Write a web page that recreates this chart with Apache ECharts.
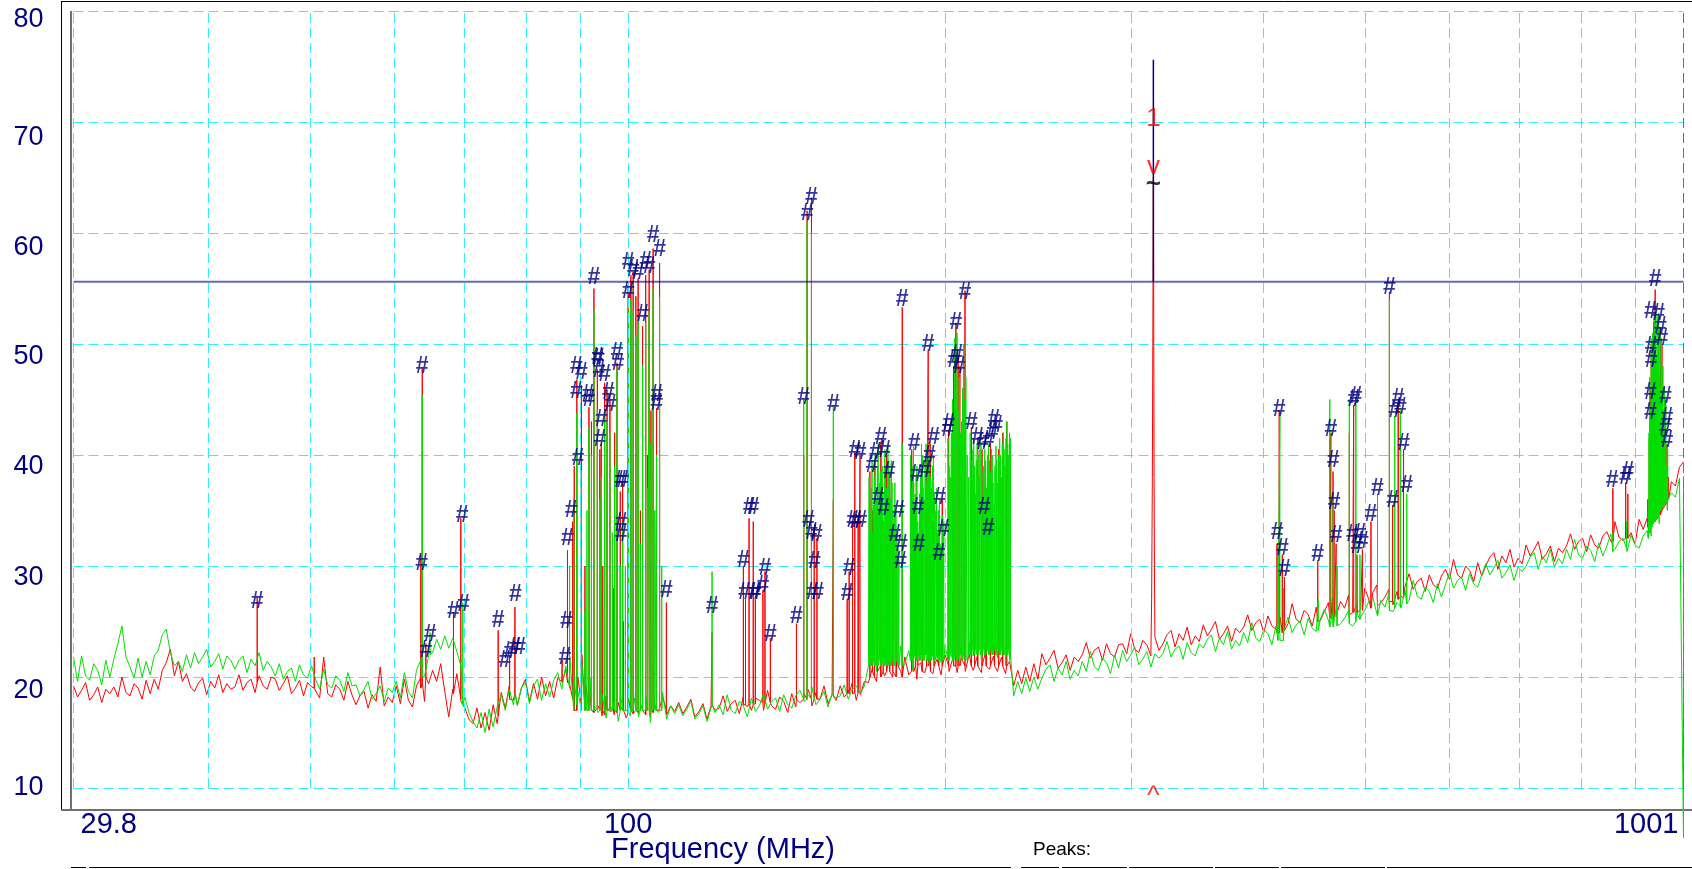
<!DOCTYPE html>
<html>
<head>
<meta charset="utf-8">
<title>Spectrum scan</title>
<style>
  * { margin: 0; padding: 0; }
  html, body { background: #fff; }
</style>
</head>
<body>
<div id="chart" style="width: 1692px; height: 869px;"></div>
<script src="https://cdn.jsdelivr.net/npm/echarts@6/dist/echarts.min.js"></script>
<script>
// sweep range (MHz) and tick labels
var fMin = 29.8, fMax = 1001;
var xTickLabels = [29.8, 100, 1001];
var yTicks = [10, 20, 30, 40, 50, 60, 70, 80];
var gridFreqs = [29.8, 40, 50, 60, 70, 80, 90, 100, 200, 300, 400, 500, 600, 700, 800, 900, 1000];

var limitLevel = 55.6;
var markerFreq = 314.7;
var markerTop = 75.6;
var markerTags = [['1', 70.3], ['v', 66.0], ['~', 64.3], ['^', 9.2]];

// noise floor, one value per sweep point (400 points, log spaced)
var redFloor = [
  19.2, 18.2, 18.8, 19.5, 17.9, 18.4, 19.1, 17.7, 18.9, 18.5,
  19.1, 18.2, 20.0, 18.6, 18.3, 19.4, 19.0, 18.0, 19.7, 18.5,
  19.8, 18.9, 20.6, 21.3, 22.5, 20.1, 21.4, 19.6, 20.3, 19.1,
  18.7, 19.5, 19.9, 18.4, 19.6, 19.0, 20.2, 18.6, 19.4, 18.9,
  19.1, 20.2, 18.8, 19.5, 19.8, 18.6, 20.1, 19.2, 18.9, 20.0,
  19.8, 18.8, 19.4, 20.1, 18.5, 19.0, 19.7, 18.3, 19.5, 19.1,
  19.0, 18.1, 21.8, 18.5, 18.2, 19.3, 18.9, 17.9, 19.6, 18.4,
  17.5, 18.3, 18.7, 17.2, 18.4, 17.8, 20.9, 17.4, 18.2, 17.7,
  19.2, 17.6, 19.8, 17.9, 17.3, 19.2, 19.9, 17.8, 19.4, 20.6,
  19.6, 21.2, 18.7, 16.4, 18.9, 20.3, 17.8, 17.2, 16.2, 15.8,
  17.2, 15.4, 16.8, 15.2, 17.5, 15.8, 18.6, 17.2, 19.2, 17.9,
  17.5, 19.0, 19.8, 17.8, 19.4, 18.0, 20.0, 18.3, 19.6, 18.1,
  19.9, 19.6, 20.7, 19.3, 21.5, 20.0, 22.0, 19.2, 18.6, 16.8,
  17.4, 16.5, 18.3, 16.9, 16.6, 17.7, 17.3, 16.3, 18.0, 16.8,
  16.7, 17.5, 17.9, 16.4, 17.6, 17.0, 18.2, 16.6, 17.4, 16.9,
  17.7, 16.7, 17.3, 18.0, 16.4, 16.9, 17.6, 16.2, 17.4, 17.0,
  17.2, 18.3, 16.9, 17.6, 17.9, 16.7, 18.2, 17.3, 17.0, 18.1,
  17.9, 17.0, 18.8, 17.4, 17.1, 18.2, 17.8, 16.8, 18.5, 17.3,
  17.7, 18.5, 18.9, 17.4, 18.6, 18.0, 19.2, 17.6, 18.4, 17.9,
  19.2, 18.2, 18.8, 19.5, 17.9, 18.4, 19.6, 19.5, 20.8, 19.6,
  21.0, 20.1, 21.6, 20.0, 21.3, 20.5, 21.8, 20.2, 20.6, 19.8,
  21.3, 20.4, 21.9, 20.3, 21.6, 20.2, 22.0, 20.5, 21.8, 20.4,
  21.7, 20.5, 22.1, 20.6, 21.9, 20.4, 22.2, 20.7, 21.9, 20.5,
  21.8, 20.3, 21.4, 19.2, 20.6, 19.4, 20.9, 19.6, 21.2, 19.8,
  22.1, 21.1, 21.7, 22.4, 20.8, 21.3, 22.0, 20.6, 21.8, 21.4,
  22.0, 23.1, 21.7, 22.4, 22.7, 21.5, 23.0, 22.1, 21.8, 22.9,
  23.0, 22.1, 23.9, 22.5, 22.2, 23.3, 22.9, 21.9, 23.6, 22.4,
  23.0, 23.8, 24.2, 22.7, 23.9, 23.3, 24.5, 22.9, 23.7, 23.2,
  24.7, 23.7, 24.3, 25.0, 23.4, 23.9, 24.6, 23.2, 24.4, 24.0,
  24.5, 25.6, 24.2, 24.9, 25.2, 24.0, 25.5, 24.6, 24.3, 25.4,
  25.7, 24.8, 26.6, 25.2, 24.9, 26.0, 25.6, 24.6, 26.3, 25.1,
  25.9, 26.7, 27.1, 25.6, 26.8, 26.2, 27.4, 25.8, 26.6, 26.1,
  28.0, 27.0, 27.6, 28.3, 26.7, 27.2, 27.9, 26.5, 27.7, 27.3,
  28.2, 29.3, 27.9, 28.6, 28.9, 27.7, 29.2, 28.3, 28.0, 29.1,
  29.7, 28.8, 30.6, 29.2, 28.9, 30.0, 29.6, 28.6, 30.3, 29.1,
  30.0, 30.8, 31.2, 29.7, 30.9, 30.3, 31.5, 29.9, 30.7, 30.2,
  31.9, 30.9, 31.5, 32.2, 30.6, 31.1, 31.8, 30.4, 31.6, 31.2,
  31.8, 32.9, 31.5, 32.2, 32.5, 31.3, 32.8, 31.9, 31.6, 32.7,
  33.1, 32.2, 34.0, 32.6, 32.3, 33.4, 33.0, 32.0, 34.2, 33.3,
  34.3, 33.6, 35.0, 34.8, 36.2, 36.0, 37.6, 37.2, 38.9, 39.4
];

var greenFloor = [
  21.8, 19.6, 21.9, 20.1, 19.7, 21.2, 20.6, 19.3, 21.5, 20.0,
  21.6, 23.0, 24.6, 21.8, 20.9, 19.9, 21.7, 20.0, 21.4, 20.2,
  21.9, 22.4, 23.8, 24.3, 22.2, 21.0, 21.4, 20.5, 22.0, 20.8,
  22.2, 21.2, 21.8, 22.5, 20.9, 21.4, 22.1, 20.7, 21.9, 21.5,
  20.7, 21.5, 21.9, 20.4, 21.6, 21.0, 22.2, 20.6, 21.4, 20.9,
  20.1, 21.2, 19.8, 20.5, 20.8, 19.6, 21.1, 20.2, 19.9, 21.0,
  19.8, 18.9, 20.7, 19.3, 19.0, 20.1, 19.7, 18.7, 20.4, 19.2,
  19.3, 18.3, 18.9, 19.6, 18.0, 18.5, 19.2, 17.8, 19.0, 18.6,
  19.6, 18.1, 20.4, 18.7, 18.1, 20.6, 21.5, 20.1, 21.9, 22.2,
  23.4, 22.5, 23.7, 22.6, 23.5, 22.3, 21.0, 18.2, 16.8, 16.0,
  15.4, 16.8, 15.0, 17.1, 15.5, 17.3, 18.4, 17.0, 18.9, 17.5,
  17.4, 19.0, 19.5, 17.6, 19.2, 19.8, 17.9, 19.4, 18.2, 19.7,
  20.4, 18.9, 21.0, 21.8, 20.1, 18.7, 21.1, 18.3, 19.9, 17.4,
  16.8, 18.4, 16.3, 17.4, 17.8, 16.0, 18.3, 16.9, 16.5, 18.1,
  16.4, 17.6, 18.2, 15.9, 17.7, 16.8, 18.6, 16.2, 17.4, 16.7,
  17.5, 16.5, 17.1, 17.8, 16.2, 16.7, 17.4, 16.0, 17.2, 16.8,
  17.5, 16.6, 18.4, 17.0, 16.7, 17.8, 17.4, 16.4, 18.1, 16.9,
  17.4, 18.5, 17.1, 17.8, 18.1, 16.9, 18.4, 17.5, 17.2, 18.3,
  18.8, 17.8, 18.4, 19.1, 17.5, 18.0, 18.7, 17.3, 18.5, 18.1,
  18.3, 19.3, 18.0, 18.9, 19.2, 18.5, 19.2, 21.0, 21.7, 20.5,
  21.9, 22.6, 20.9, 23.1, 21.4, 22.8, 21.1, 22.4, 20.6, 21.9,
  22.1, 22.7, 21.2, 23.2, 21.7, 21.3, 22.9, 21.6, 23.0, 21.8,
  22.8, 21.6, 23.1, 21.9, 22.9, 21.5, 23.2, 22.0, 23.0, 21.7,
  22.7, 21.0, 21.5, 18.3, 19.6, 18.5, 19.9, 18.7, 20.0, 18.9,
  19.9, 20.7, 21.1, 19.6, 20.8, 20.2, 21.4, 19.8, 20.6, 20.1,
  21.4, 20.5, 22.3, 20.9, 20.6, 21.7, 21.3, 20.3, 22.0, 20.8,
  22.4, 21.4, 22.0, 22.7, 21.1, 21.6, 22.3, 20.9, 22.1, 21.7,
  22.1, 23.2, 21.8, 22.5, 22.8, 21.6, 23.1, 22.2, 21.9, 23.0,
  22.6, 23.4, 23.8, 22.3, 23.5, 22.9, 24.1, 22.5, 23.3, 22.8,
  24.0, 23.1, 24.9, 23.5, 23.2, 24.3, 23.9, 22.9, 24.6, 23.4,
  24.3, 25.4, 24.0, 24.7, 25.0, 23.8, 25.3, 24.4, 24.1, 25.2,
  26.1, 25.1, 25.7, 26.4, 24.8, 25.3, 26.0, 24.6, 25.8, 25.4,
  26.0, 26.8, 27.2, 25.7, 26.9, 26.3, 27.5, 25.9, 26.7, 26.2,
  27.8, 26.9, 28.7, 27.3, 27.0, 28.1, 27.7, 26.7, 28.4, 27.2,
  28.3, 29.4, 28.0, 28.7, 29.0, 27.8, 29.3, 28.4, 28.1, 29.2,
  30.2, 29.2, 29.8, 30.5, 28.9, 29.4, 30.1, 28.7, 29.9, 29.5,
  30.0, 30.8, 31.2, 29.7, 30.9, 30.3, 31.5, 29.9, 30.7, 30.2,
  31.5, 30.6, 32.4, 31.0, 30.7, 31.8, 31.4, 30.4, 32.1, 30.9,
  31.8, 32.9, 31.5, 32.2, 32.5, 31.3, 32.8, 31.9, 31.6, 32.7,
  33.2, 32.7, 34.0, 33.8, 35.2, 35.0, 36.6, 36.2, 37.9, 38.1
];

// spikes: [MHz, peak dB, base dB]  or  [MHz, dB] for a single point
var redSpikes = [
  [44.5, 27.2, 19.5], [50.4, 21.8, 19.0], [63.6, 31.0, 19.0], [63.8, 47.8, 19.5], [64.3, 23.0, 20.0],
  [68.3, 25.8, 18.5], [69.4, 34.3, 18.0], [75.3, 24.2, 16.5], [77.2, 22.0, 18.0], [78.1, 26.3, 18.5],
  [86.6, 21.5, 19.5], [87.6, 31.4, 19.5], [88.6, 34.0, 18.0], [88.9, 39.0, 17.0],
  [89.4, 46.8, 17.0], [90.3, 46.3, 17.5], [91.0, 30.0, 17.0], [91.8, 44.3, 17.0], [92.3, 43.0, 17.0],
  [92.8, 55.0, 16.8], [93.5, 47.7, 17.2], [94.0, 40.5, 17.0], [94.3, 41.0, 17.0], [94.6, 30.0, 17.0],
  [95.0, 46.5, 16.6], [95.5, 45.9, 17.0], [96.1, 45.0, 17.2], [96.8, 28.0, 17.0], [97.1, 42.0, 17.0],
  [97.6, 48.3, 16.8], [98.3, 36.7, 17.0], [98.8, 37.5, 17.0], [99.0, 25.0, 17.0],
  [100.0, 55.3, 16.8], [100.6, 56.2, 17.0], [101.1, 56.5, 16.7], [101.7, 54.3, 17.0], [102.2, 55.9, 16.8],
  [102.7, 35.0, 17.0], [103.2, 51.6, 17.0], [103.9, 56.2, 16.6], [104.3, 40.0, 17.0], [104.7, 56.7, 17.0],
  [105.1, 44.0, 17.0], [105.6, 58.6, 16.8], [106.4, 44.2, 17.0], [107.1, 57.3, 17.2], [108.7, 26.7, 17.0],
  [120.1, 24.0, 17.5], [128.6, 30.0, 17.5], [129.2, 27.0, 17.5], [130.2, 34.3, 17.6], [131.4, 34.0, 17.5],
  [132.0, 27.0, 17.6], [134.2, 27.8, 17.7], [134.8, 29.5, 17.6], [136.4, 23.5, 17.7], [144.4, 24.8, 18.0],
  [146.7, 40.0, 18.0], [147.8, 62.0, 18.0], [149.2, 63.2, 18.0], [150.1, 33.5, 18.0], [151.0, 32.5, 18.0],
  [156.5, 36.0, 18.3], [161.3, 27.0, 18.5], [162.0, 29.5, 18.5], [163.2, 34.0, 18.5], [164.0, 40.2, 18.6],
  [165.2, 34.0, 18.6], [165.9, 40.0, 18.6],
  [169.5, 38.5, 20.0], [170.5, 35.0, 20.5], [171.2, 39.5, 20.0], [172.3, 36.0, 20.5], [173.6, 41.2, 20.0],
  [174.5, 34.0, 20.5], [175.8, 40.0, 20.5], [177.0, 37.8, 20.5], [178.2, 33.0, 20.5], [179.5, 31.0, 20.0],
  [181.9, 53.3, 20.0],
  [185.7, 40.5, 20.5], [186.5, 37.5, 20.5], [187.3, 35.0, 21.0], [188.2, 30.0, 21.0], [190.0, 38.0, 20.5],
  [191.8, 39.5, 21.0], [192.5, 49.5, 21.0], [193.5, 41.0, 20.5], [195.0, 35.5, 21.0], [197.0, 30.5, 21.0],
  [198.5, 36.0, 21.0],
  [201.3, 42.3, 21.0], [203.5, 48.0, 21.0], [204.5, 51.9, 21.0], [205.5, 49.0, 21.0], [206.3, 48.0, 21.0],
  [208.6, 54.8, 21.0],
  [211.5, 42.5, 21.0], [213.0, 38.0, 21.0], [214.5, 41.5, 21.0], [216.5, 40.5, 21.0], [218.5, 35.0, 21.0],
  [220.5, 41.0, 21.0], [222.5, 33.0, 21.0], [224.5, 40.5, 21.0], [226.5, 42.0, 21.0], [228.5, 43.0, 21.0],
  [313.5, 27.0], [314.0, 38.0], [314.7, 65.0], [315.2, 38.0], [315.5, 28.0],
  [412.2, 32.0, 24.0], [414.2, 44.0, 24.0], [417.0, 31.0, 24.0], [419.0, 29.0, 24.2], [450.5, 30.5, 25.0],
  [462.5, 41.5, 25.3], [463.6, 42.0, 25.3], [465.8, 38.5, 25.3], [467.0, 35.0, 25.4], [469.0, 32.0, 25.4],
  [482.7, 42.0, 25.6], [487.3, 44.5, 25.8], [490.8, 31.0, 25.8], [496.7, 31.5, 26.0], [506.0, 34.0, 26.2],
  [513.3, 33.0, 26.4], [526.8, 54.7, 26.8], [530.5, 35.5, 26.8], [537.0, 44.5, 27.0], [543.3, 40.5, 27.1],
  [858.0, 37.0, 32.2], [882.3, 37.5, 32.5], [886.5, 36.5, 32.5],
  [926.0, 36.0, 33.5], [929.0, 41.5, 33.8], [931.0, 46.0, 33.8], [933.0, 50.0, 34.0], [935.0, 43.0, 34.0],
  [938.0, 52.0, 34.0], [941.0, 54.9, 34.0], [944.0, 49.0, 34.2], [948.0, 52.2, 34.5], [951.6, 51.0, 34.6],
  [955.0, 50.0, 35.0], [958.0, 44.0, 35.2], [962.0, 45.0, 35.5], [965.5, 41.0, 35.8], [969.0, 38.0, 36.0]
];

var greenSpikes = [
  [63.8, 45.4, 20.0], [64.9, 24.0, 22.0], [69.7, 26.7, 17.5], [78.2, 24.5, 18.5], [88.0, 30.0, 19.0],
  [88.8, 36.0, 17.0],
  [89.4, 43.8, 17.5], [90.3, 38.6, 17.0], [91.0, 26.0, 17.0], [91.4, 35.0, 17.0], [91.8, 42.5, 17.0],
  [92.3, 40.0, 17.0], [92.8, 53.1, 17.0], [93.5, 44.1, 17.0], [94.0, 36.0, 17.0], [94.3, 38.0, 17.0],
  [95.0, 44.0, 17.0], [95.5, 43.0, 17.0], [96.1, 42.0, 17.0], [96.6, 33.0, 17.0], [97.1, 39.0, 17.0],
  [97.6, 47.7, 17.0], [98.3, 30.0, 17.0], [98.8, 34.0, 17.0], [99.4, 30.0, 17.0], [100.0, 53.1, 17.0],
  [100.6, 54.0, 17.0], [101.1, 53.0, 17.0], [101.7, 50.7, 17.0], [102.2, 52.0, 17.0], [102.7, 32.0, 17.0],
  [103.2, 48.0, 17.0], [103.9, 51.9, 17.0], [104.3, 37.0, 17.0], [104.7, 53.0, 17.0], [105.1, 41.0, 17.0],
  [105.6, 54.9, 17.0], [106.0, 35.0, 17.0], [106.4, 40.0, 17.0], [107.1, 54.2, 17.0], [107.6, 30.0, 17.0],
  [120.1, 29.5, 17.5], [146.7, 45.0, 18.0], [147.8, 61.0, 18.0], [149.2, 60.0, 18.0], [156.5, 44.5, 18.3],
  [169.2, 38.0, 21.0], [169.5, 35.0, 21.5], [169.8, 33.0, 21.5], [170.0, 37.0, 21.0], [170.3, 39.5, 21.0],
  [170.6, 33.0, 21.5], [170.9, 35.5, 21.5], [171.2, 38.0, 21.0], [171.5, 40.2, 21.0], [171.8, 34.5, 21.5],
  [172.0, 36.0, 22.0], [172.3, 39.0, 21.0], [172.6, 41.0, 21.0], [172.9, 35.0, 21.5], [173.2, 37.5, 22.0],
  [173.5, 38.5, 21.0], [173.9, 41.5, 21.0], [174.1, 39.0, 21.5], [174.4, 36.5, 21.5], [174.7, 34.0, 21.0],
  [175.1, 40.5, 21.0], [175.4, 38.8, 21.5], [175.7, 37.0, 22.0], [176.0, 35.5, 21.0], [176.3, 40.8, 21.0],
  [176.6, 39.5, 21.5], [176.9, 38.5, 21.5], [177.2, 36.0, 21.0], [177.6, 39.5, 21.0], [177.9, 37.5, 21.5],
  [178.3, 35.0, 22.0], [178.6, 33.5, 21.0], [179.0, 37.5, 21.0], [179.4, 35.0, 21.5], [179.8, 33.0, 21.5],
  [180.2, 31.5, 21.0], [180.6, 30.5, 21.0], [181.9, 41.0, 21.0],
  [185.2, 40.0, 21.5], [185.5, 36.0, 21.5], [185.8, 37.0, 22.0], [186.1, 39.0, 21.5], [186.4, 40.8, 21.5],
  [186.8, 35.5, 22.0], [187.1, 36.5, 22.0], [187.5, 38.0, 21.5], [187.8, 39.0, 21.5], [188.2, 34.0, 22.0],
  [188.6, 33.0, 22.0], [188.9, 36.5, 21.5], [189.3, 38.0, 21.5], [189.7, 41.0, 22.0], [190.1, 40.0, 22.0],
  [190.4, 37.0, 21.5], [190.8, 36.0, 21.5], [191.2, 39.5, 22.0], [191.6, 41.0, 22.0], [191.9, 37.5, 21.5],
  [192.3, 38.5, 21.5], [192.7, 40.0, 22.0], [193.1, 41.2, 22.0], [193.5, 38.0, 21.5], [193.9, 37.0, 21.5],
  [194.3, 39.0, 22.0], [194.7, 40.0, 22.0], [195.1, 36.5, 21.5], [195.5, 35.0, 21.5], [196.0, 37.0, 22.0],
  [196.4, 33.0, 22.0], [196.8, 35.0, 21.5], [197.3, 36.0, 21.5], [197.7, 32.0, 22.0], [198.2, 31.0, 22.0],
  [198.7, 34.5, 21.5], [199.2, 34.0, 21.5],
  [201.0, 41.5, 21.5], [201.5, 39.0, 21.5], [202.0, 38.0, 22.0], [202.5, 42.0, 22.0], [203.0, 45.0, 21.5],
  [203.5, 43.0, 21.5], [204.0, 50.5, 22.0], [204.5, 46.0, 22.0], [205.0, 51.0, 21.5], [205.5, 44.0, 21.5],
  [206.0, 47.0, 22.0], [206.5, 42.0, 22.0], [207.0, 43.0, 21.5], [207.5, 46.0, 21.5], [208.0, 50.0, 22.0],
  [208.5, 45.0, 22.0], [209.0, 47.0, 21.5], [209.6, 40.0, 21.5], [210.3, 38.0, 22.0],
  [211.0, 42.0, 22.0], [211.4, 39.5, 22.0], [211.8, 38.0, 22.5], [212.2, 40.5, 22.5], [212.6, 41.5, 22.0],
  [213.0, 39.0, 22.0], [213.4, 36.5, 22.5], [213.8, 39.5, 22.5], [214.2, 41.0, 22.0], [214.6, 40.0, 22.0],
  [215.1, 38.0, 22.5], [215.5, 40.5, 22.5], [216.0, 41.2, 22.0], [216.4, 38.5, 22.0], [216.9, 36.0, 22.5],
  [217.3, 39.0, 22.5], [217.8, 40.5, 22.0], [218.2, 39.5, 22.0], [218.7, 37.0, 22.5], [219.1, 40.0, 22.5],
  [219.6, 41.0, 22.0], [220.0, 39.5, 22.0], [220.5, 38.5, 22.5], [221.0, 40.5, 22.5], [221.4, 40.0, 22.0],
  [221.8, 37.5, 22.0], [222.3, 35.5, 22.5], [222.7, 39.0, 22.5], [223.2, 40.8, 22.0], [223.6, 39.5, 22.0],
  [224.1, 37.5, 22.5], [224.5, 40.0, 22.5], [225.0, 41.5, 22.0], [225.4, 40.0, 22.0], [225.9, 38.0, 22.5],
  [226.3, 41.0, 22.5], [226.8, 42.0, 22.0], [227.2, 40.5, 22.0], [227.7, 39.0, 22.5], [228.1, 41.5, 22.5],
  [228.6, 43.0, 22.0], [229.0, 41.0, 22.0], [229.5, 40.0, 22.5], [229.9, 42.0, 22.5], [230.4, 41.5, 22.0],
  [413.0, 30.0, 23.3], [414.8, 43.5, 23.3], [418.0, 28.0, 23.3], [451.0, 27.0, 24.2], [462.5, 45.0, 24.5],
  [466.0, 36.0, 24.5], [470.0, 30.0, 24.6], [482.7, 45.0, 24.8], [489.6, 44.8, 25.0], [494.0, 31.0, 25.2],
  [513.3, 36.5, 25.5], [526.8, 54.0, 26.0], [533.0, 43.5, 26.2], [539.5, 44.0, 26.4], [547.1, 36.5, 26.6],
  [858.0, 33.0, 31.3], [884.0, 34.0, 31.6],
  [927.0, 35.0, 32.5], [928.5, 42.0, 33.0], [930.0, 47.0, 33.0], [931.5, 44.0, 33.2], [933.0, 50.5, 33.5],
  [934.5, 46.0, 33.5], [936.0, 51.0, 33.8], [937.5, 48.0, 33.8], [939.0, 52.5, 34.0], [940.5, 50.0, 34.0],
  [942.0, 53.2, 34.2], [943.5, 49.0, 34.2], [945.0, 52.5, 34.5], [946.5, 48.0, 34.5], [948.0, 52.8, 34.6],
  [949.5, 47.0, 34.8], [951.0, 51.5, 35.0], [952.5, 46.0, 35.0], [954.0, 50.5, 35.2], [955.5, 45.0, 35.2],
  [957.0, 48.0, 35.4], [958.5, 43.0, 35.4], [960.0, 46.0, 35.6], [961.5, 41.0, 35.6], [963.0, 44.5, 35.8],
  [965.0, 39.0, 36.0], [967.0, 40.5, 36.0],
  [1001, 5.5]
];

// peak flags ("#") [MHz, dB]
var peakMarks = [
  [44.5, 26.8], [63.8, 48.0], [63.7, 30.2], [64.3, 22.4], [64.9, 23.8], [68.3, 25.9], [69.6, 34.5], [69.8, 26.5],
  [75.3, 25.1], [76.4, 21.5], [77.2, 22.3], [78.1, 22.6], [78.9, 22.6], [78.2, 27.4], [87.1, 21.7], [87.4, 25.0],
  [87.6, 32.5], [88.3, 35.0], [89.3, 48.0], [90.3, 47.4], [89.3, 45.7], [89.6, 39.7], [91.6, 45.4], [93.7, 48.7],
  [94.3, 43.2], [94.0, 41.4], [97.6, 49.2], [97.8, 48.2], [98.8, 37.7], [98.5, 33.9], [98.5, 32.8], [92.8, 56.0],
  [93.5, 48.8], [93.8, 47.6], [91.8, 45.0], [95.0, 47.2], [95.8, 45.6], [96.2, 44.5], [100.0, 57.3], [100.0, 54.7],
  [101.1, 56.7], [102.2, 56.4], [103.2, 52.6], [103.9, 57.4], [104.7, 57.0], [105.6, 59.8], [106.4, 45.4],
  [106.4, 44.6], [107.1, 58.5], [108.7, 27.8], [98.3, 37.7],
  [120.1, 26.3], [128.6, 30.5], [128.9, 27.6], [130.2, 35.3], [131.4, 35.3], [131.7, 27.6], [132.0, 27.6],
  [134.2, 28.2], [134.8, 29.8], [136.4, 23.8], [144.4, 25.4], [146.7, 45.2], [147.8, 61.7], [149.2, 63.2],
  [148.2, 34.1], [149.2, 33.0], [150.8, 32.8], [150.2, 30.4], [149.5, 27.6], [151.2, 27.6], [156.5, 44.5],
  [161.3, 27.5], [162.0, 29.8], [163.2, 34.1], [164.0, 40.4], [165.9, 40.2], [164.3, 34.0], [166.2, 34.1],
  [170.2, 39.0], [171.5, 40.2], [173.6, 41.6], [175.0, 40.4], [172.6, 36.2], [174.6, 35.2], [176.8, 38.5],
  [178.9, 32.8], [180.5, 35.0], [181.9, 54.0], [181.6, 31.9], [181.2, 30.4],
  [186.7, 41.0], [187.5, 38.2], [188.2, 35.3], [188.6, 31.9], [191.2, 38.6], [193.0, 39.9], [192.5, 49.9],
  [194.8, 41.6], [197.0, 31.1], [197.4, 36.2], [199.0, 33.3],
  [200.9, 42.3], [201.3, 42.8], [203.5, 48.5], [204.5, 51.9], [205.0, 49.0], [206.0, 48.0], [208.6, 54.6],
  [211.5, 42.9], [214.5, 41.6], [216.8, 41.1], [219.5, 41.3], [222.2, 43.2], [221.5, 42.0], [217.5, 35.3],
  [219.4, 33.4], [223.5, 42.6],
  [414.2, 44.1], [412.2, 33.0], [417.0, 31.6], [419.0, 29.7], [450.5, 31.0], [463.6, 42.3], [465.8, 39.5],
  [467.0, 35.7], [469.0, 32.7], [487.3, 45.0], [489.6, 45.3], [486.0, 32.8], [490.8, 31.7], [496.7, 32.2],
  [494.0, 32.9], [506.0, 34.6], [513.3, 37.0], [526.8, 55.1], [530.5, 35.9], [533.0, 44.0], [537.0, 45.1],
  [539.5, 44.3], [543.3, 41.0], [547.1, 37.2], [856.5, 37.7], [881.6, 38.0], [886.5, 38.5],
  [941.0, 55.8], [931.0, 52.9], [948.0, 52.7], [951.6, 51.6], [955.0, 50.5], [932.5, 49.8], [932.5, 48.5],
  [931.0, 45.6], [962.0, 45.3], [931.0, 43.8], [965.5, 43.4], [962.0, 42.4], [965.5, 41.3]
];

function sweep(floor) {
  var n = floor.length - 1;
  return floor.map(function (v, i) {
    return [fMin * Math.pow(fMax / fMin, i / n), v];
  });
}

function buildTrace(floor, spikes) {
  var pts = sweep(floor);
  spikes.forEach(function (s) {
    if (s.length === 3) {
      pts.push([s[0], s[2]], [s[0], s[1]], [s[0], s[2]]);
    } else {
      pts.push([s[0], s[1]]);
    }
  });
  pts.sort(function (a, b) { return a[0] - b[0]; });
  return pts;
}

var navy = '#000080';
var cyan = '#33eeff';
var font = 'Liberation Sans, Arial, sans-serif';

// per-label vertical nudge of the y tick labels
var yShift = { 80: 9, 70: 16, 60: 15, 50: 13, 40: 12, 30: 12, 20: 14, 10: 0 };
var yRich = {};
yTicks.forEach(function (t) {
  yRich['p' + t] = { color: navy, fontSize: 27, fontFamily: font, padding: [yShift[t] * 2, 0, 0, 0] };
});

var tagColor = { '1': '#ff0000', 'v': '#ff0000', '~': '#000000', '^': '#ff0000' };

var chart = echarts.init(document.getElementById('chart'));

var option = {
  animation: false,
  backgroundColor: '#ffffff',
  grid: { left: 73.5, right: 8.5, top: 11, bottom: 81, containLabel: false },
  xAxis: {
    type: 'log',
    logBase: 10,
    min: fMin,
    max: fMax,
    axisLine: { show: false },
    axisTick: { show: false },
    splitLine: { show: false },
    axisLabel: {
      show: true,
      interval: 0,
      hideOverlap: false,
      showMinLabel: true,
      showMaxLabel: true,
      alignMinLabel: 'left',
      alignMaxLabel: 'right',
      margin: 22,
      formatter: function (v) {
        if (Math.abs(v - xTickLabels[0]) < 0.4) return '{lo|' + xTickLabels[0] + '}';
        if (Math.abs(v - xTickLabels[1]) < 0.4) return '{mid|' + xTickLabels[1] + '}';
        if (Math.abs(v - xTickLabels[2]) < 0.4) return '{hi|' + xTickLabels[2] + '}';
        return '';
      },
      rich: {
        lo: { color: navy, fontSize: 29, fontFamily: font, padding: [0, 0, 0, 7] },
        mid: { color: navy, fontSize: 29, fontFamily: font },
        hi: { color: navy, fontSize: 29, fontFamily: font, padding: [0, 5, 0, 0] }
      }
    }
  },
  yAxis: {
    type: 'value',
    min: 10,
    max: 80,
    interval: 10,
    axisLine: { show: false },
    axisTick: { show: false },
    splitLine: { show: true, lineStyle: { color: cyan, type: [10, 5], width: 1 } },
    axisLabel: {
      margin: 30,
      formatter: function (v) { return '{p' + v + '|' + v + '}'; },
      rich: yRich
    }
  },
  series: [
    {
      // carries the vertical grid lines
      type: 'line',
      data: [[fMin, 10]],
      showSymbol: false,
      lineStyle: { opacity: 0 },
      silent: true,
      z: 1,
      markLine: {
        silent: true,
        symbol: ['none', 'none'],
        label: { show: false },
        animation: false,
        lineStyle: { color: cyan, type: [10, 5], width: 1 },
        data: gridFreqs.map(function (f) { return { xAxis: f }; }).concat([
          { xAxis: fMax, lineStyle: { color: '#2f8a90', type: [10, 5], width: 1 } }
        ])
      }
    },
    {
      name: 'red',
      type: 'line',
      data: buildTrace(redFloor, redSpikes),
      showSymbol: false,
      silent: true,
      lineStyle: { color: '#ff0000', width: 1 },
      z: 2
    },
    {
      name: 'green',
      type: 'line',
      data: buildTrace(greenFloor, greenSpikes),
      showSymbol: false,
      silent: true,
      clip: false,
      lineStyle: { color: '#00e000', width: 1 },
      z: 3
    },
    {
      name: 'limit',
      type: 'line',
      data: [[fMin, limitLevel], [fMax, limitLevel]],
      showSymbol: false,
      silent: true,
      lineStyle: { color: 'rgba(0,0,128,0.6)', width: 2 },
      z: 5
    },
    {
      name: 'marker',
      type: 'line',
      data: [[markerFreq, markerTop], [markerFreq, limitLevel]],
      showSymbol: false,
      silent: true,
      lineStyle: { color: navy, width: 1.5 },
      z: 6
    },
    {
      name: 'peaks',
      type: 'scatter',
      data: peakMarks,
      symbolSize: 1,
      silent: true,
      itemStyle: { color: 'rgba(0,0,0,0)' },
      label: {
        show: true,
        position: 'inside',
        formatter: '#',
        color: navy,
        fontSize: 23,
        fontWeight: 'bold',
        fontFamily: font
      },
      z: 7
    },
    {
      name: 'tags',
      type: 'scatter',
      clip: false,
      symbolSize: 1,
      silent: true,
      itemStyle: { color: 'rgba(0,0,0,0)' },
      data: markerTags.map(function (t) {
        return {
          value: [markerFreq, t[1]],
          label: {
            show: true,
            position: 'inside',
            formatter: t[0],
            color: tagColor[t[0]],
            fontSize: 26,
            fontWeight: t[0] === '~' ? 'bold' : 'normal',
            fontFamily: font
          }
        };
      }),
      z: 8
    }
  ],
  graphic: [
    { type: 'line', silent: true, shape: { x1: 61, y1: 1.5, x2: 1692, y2: 1.5 }, style: { stroke: '#000', lineWidth: 1 } },
    { type: 'line', silent: true, shape: { x1: 61.5, y1: 1, x2: 61.5, y2: 811 }, style: { stroke: '#000', lineWidth: 1 } },
    { type: 'line', silent: true, shape: { x1: 71, y1: 11, x2: 71, y2: 810 }, style: { stroke: '#707070', lineWidth: 2 } },
    { type: 'line', silent: true, shape: { x1: 61, y1: 810, x2: 1692, y2: 810 }, style: { stroke: '#707070', lineWidth: 2 } },
    { type: 'line', silent: true, shape: { x1: 71, y1: 867.5, x2: 86, y2: 867.5 }, style: { stroke: '#000', lineWidth: 1 } },
    { type: 'line', silent: true, shape: { x1: 89, y1: 867.5, x2: 1011, y2: 867.5 }, style: { stroke: '#000', lineWidth: 1 } },
    { type: 'line', silent: true, shape: { x1: 1021, y1: 867.5, x2: 1059, y2: 867.5 }, style: { stroke: '#000', lineWidth: 1 } },
    { type: 'line', silent: true, shape: { x1: 1062, y1: 867.5, x2: 1127, y2: 867.5 }, style: { stroke: '#000', lineWidth: 1 } },
    { type: 'line', silent: true, shape: { x1: 1129, y1: 867.5, x2: 1213, y2: 867.5 }, style: { stroke: '#000', lineWidth: 1 } },
    { type: 'line', silent: true, shape: { x1: 1215, y1: 867.5, x2: 1279, y2: 867.5 }, style: { stroke: '#000', lineWidth: 1 } },
    { type: 'line', silent: true, shape: { x1: 1281, y1: 867.5, x2: 1385, y2: 867.5 }, style: { stroke: '#000', lineWidth: 1 } },
    { type: 'line', silent: true, shape: { x1: 1387, y1: 867.5, x2: 1692, y2: 867.5 }, style: { stroke: '#000', lineWidth: 1 } },
    {
      type: 'text', silent: true, x: 723, y: 850,
      style: { text: 'Frequency (MHz)', fill: navy, font: '29px ' + font, align: 'center', verticalAlign: 'middle', textAlign: 'center', textVerticalAlign: 'middle' }
    },
    {
      type: 'text', silent: true, x: 1033, y: 850,
      style: { text: 'Peaks:', fill: '#000', font: '19px ' + font, align: 'left', verticalAlign: 'middle', textAlign: 'left', textVerticalAlign: 'middle' }
    }
  ]
};

chart.setOption(option);
</script>
</body>
</html>
